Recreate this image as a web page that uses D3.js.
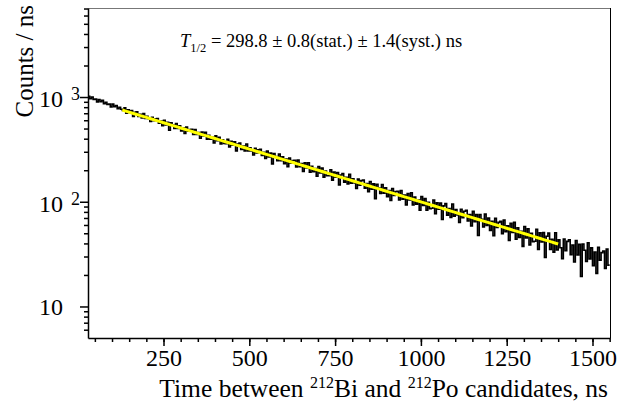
<!DOCTYPE html>
<html lang="en">
<head>
<meta charset="utf-8">
<script src="https://d3js.org/d3.v7.min.js"></script>
<style>
  body { margin: 0; background: #fff; }
  text { font-family: "Liberation Serif", "Times New Roman", serif; fill: #000; }
</style>
</head>
<body>
<script>
// histogram: 5 ns bins from 30 ns to 1550 ns, counts / ns
const binStart = 30;
const binWidth = 5;
const counts = [
  1017, 962, 1000, 946, 956, 899, 945, 902, 929, 862, 888, 848, 857, 805, 855, 808, 829, 772, 796, 763,
  744, 788, 702, 757, 713, 744, 651, 714, 722, 653, 683, 632, 697, 626, 654, 621, 583, 640, 593, 619,
  622, 562, 590, 532, 600, 542, 575, 481, 567, 539, 501, 558, 500, 530, 473, 508, 448, 516, 471, 490,
  491, 439, 490, 439, 459, 404, 463, 424, 461, 395, 432, 395, 413, 364, 426, 382, 412, 356, 390, 360,
  359, 395, 334, 377, 347, 373, 306, 356, 364, 316, 340, 305, 356, 305, 328, 306, 280, 324, 292, 313,
  316, 277, 297, 259, 305, 268, 291, 229, 288, 270, 246, 285, 247, 268, 231, 255, 216, 262, 234, 247,
  249, 215, 250, 216, 231, 195, 235, 210, 236, 192, 218, 194, 207, 175, 217, 188, 210, 172, 196, 177,
  177, 202, 161, 192, 172, 190, 145, 180, 186, 154, 171, 148, 183, 150, 166, 151, 134, 165, 144, 159,
  161, 135, 149, 125, 156, 132, 148, 107, 147, 135, 120, 146, 121, 136, 112, 128, 103, 134, 115, 125,
  126, 104, 128, 106, 116, 93, 120, 104, 122, 93, 111, 95, 104, 83, 112, 92, 107, 83, 99, 86,
  86.8, 103.9, 76.8, 97.6, 84.8, 97.3, 67.6, 91.4, 95.9, 74.5, 86.3, 71.0, 95.0, 72.9, 84.2, 74.7, 63.6, 84.7, 70.4, 81.1,
  82.9, 65.6, 75.6, 58.7, 81.0, 64.4, 75.6, 47.6, 75.6, 68.1, 57.4, 76.3, 59.3, 69.7, 53.3, 65.0, 47.4, 69.6, 56.8, 63.5,
  64.9, 49.6, 66.7, 51.7, 58.9, 42.8, 62.1, 50.9, 63.6, 43.8, 56.4, 45.6, 52.2, 37.5, 58.0, 45.0, 55.3, 38.6, 50.1, 41.6,
  41.9, 54.6, 35.1, 50.4, 41.4, 50.7, 29.4, 46.8, 50.3, 35.0, 43.8, 33.0, 50.6, 34.7, 43.2, 36.4, 28.6, 44.1, 34.0, 41.8,
  43.4, 31.2, 38.6, 26.6, 42.7, 31.0, 39.2, 19.3, 39.5, 34.4, 26.9, 40.6, 28.5, 36.3, 24.5, 33.1, 20.7, 36.7, 27.7, 32.7,
  33.9, 23.1, 35.3, 24.8
];

// exponential fit
const fitRange = [130, 1400];
const fitNorm = 751;      // counts / ns at fitRange[0]
const halfLife = 298.8;   // ns

const xMajorTicks = [250, 500, 750, 1000, 1250, 1500];
const xMinorTicks = d3.range(50, 1551, 50);
const yMajorTicks = [10, 100, 1000];
const yTickExp = ["", "2", "3"];
const yMinorTicks = [6, 7, 8, 9, 20, 30, 40, 50, 60, 70, 80, 90,
  200, 300, 400, 500, 600, 700, 800, 900, 2000, 3000, 4000, 5000, 6000, 7000];

const width = 641, height = 403;
const plot = {left: 88, right: 610, top: 8, bottom: 338};

const svg = d3.select("body").append("svg")
  .attr("width", width).attr("height", height);

const x = d3.scaleLinear().domain([30, 1551]).range([plot.left, plot.right]);
const y = d3.scaleLog().domain([5, 7080]).range([plot.bottom, plot.top]);

svg.append("clipPath").attr("id", "clip")
  .append("rect")
  .attr("x", plot.left).attr("y", plot.top)
  .attr("width", plot.right - plot.left).attr("height", plot.bottom - plot.top);

// histogram as a step line
const pts = counts.map((c, i) => [binStart + i * binWidth, c]);
pts.push([binStart + counts.length * binWidth, counts[counts.length - 1]]);

svg.append("path")
  .attr("clip-path", "url(#clip)")
  .attr("d", d3.line().curve(d3.curveStepAfter).x(d => x(d[0])).y(d => y(d[1]))(pts))
  .attr("fill", "none")
  .attr("stroke", "#000")
  .attr("stroke-width", 1.6);

// fit curve
const fitPts = d3.range(fitRange[0], fitRange[1] + 1, 10)
  .map(t => [t, fitNorm * Math.pow(2, -(t - fitRange[0]) / halfLife)]);
svg.append("path")
  .attr("d", d3.line().x(d => x(d[0])).y(d => y(d[1]))(fitPts))
  .attr("fill", "none")
  .attr("stroke", "#ffff00")
  .attr("stroke-width", 3);

// frame
svg.append("line")
  .attr("x1", plot.left).attr("x2", plot.right)
  .attr("y1", plot.top + 0.5).attr("y2", plot.top + 0.5)
  .attr("stroke", "#777").attr("stroke-width", 1);
svg.append("line")
  .attr("x1", plot.right + 0.5).attr("x2", plot.right + 0.5)
  .attr("y1", plot.top).attr("y2", plot.bottom)
  .attr("stroke", "#000").attr("stroke-width", 1);

// x axis
const gxMinor = svg.append("g")
  .attr("transform", `translate(0,${plot.bottom})`)
  .call(d3.axisBottom(x).tickValues(xMinorTicks).tickSize(4).tickFormat("").tickSizeOuter(0));
const gx = svg.append("g")
  .attr("transform", `translate(0,${plot.bottom})`)
  .call(d3.axisBottom(x).tickValues(xMajorTicks).tickSize(8).tickPadding(3)
    .tickFormat(d3.format("d")).tickSizeOuter(0));
[gxMinor, gx].forEach(g => {
  g.selectAll("path, line").attr("stroke", "#000").attr("stroke-width", 1.5);
});
gx.select(".domain").remove();
gx.selectAll("text").attr("font-size", 24).attr("font-family", "Liberation Serif");

// y axis
const gyMinor = svg.append("g")
  .attr("transform", `translate(${plot.left},0)`)
  .call(d3.axisLeft(y).tickValues(yMinorTicks).tickSize(4).tickFormat("").tickSizeOuter(0));
const gy = svg.append("g")
  .attr("transform", `translate(${plot.left},0)`)
  .call(d3.axisLeft(y).tickValues(yMajorTicks).tickSize(8).tickFormat("").tickSizeOuter(0));
[gyMinor, gy].forEach(g => {
  g.selectAll("path, line").attr("stroke", "#000").attr("stroke-width", 1.5);
});
gy.select(".domain").remove();

yMajorTicks.forEach((v, i) => {
  svg.append("text")
    .attr("x", 63).attr("y", y(v) + (yTickExp[i] ? 10 : 9))
    .attr("text-anchor", "end")
    .attr("font-size", 24)
    .text("10");
  if (yTickExp[i]) {
    svg.append("text")
      .attr("x", 71).attr("y", y(v) + 3)
      .attr("font-size", 18)
      .text(yTickExp[i]);
  }
});

// axis titles
svg.append("text")
  .attr("transform", `translate(33,5) rotate(-90)`)
  .attr("text-anchor", "end")
  .attr("font-size", 25)
  .text("Counts / ns");

const xt = svg.append("text")
  .attr("x", 608).attr("y", 397)
  .attr("text-anchor", "end")
  .attr("font-size", 25.5);
xt.append("tspan").text("Time between ");
xt.append("tspan").attr("font-size", 16).attr("dy", -9).text("212");
xt.append("tspan").attr("dy", 9).text("Bi and ");
xt.append("tspan").attr("font-size", 16).attr("dy", -9).text("212");
xt.append("tspan").attr("dy", 9).text("Po candidates, ns");

// result label
const lab = svg.append("text")
  .attr("x", 180).attr("y", 47)
  .attr("font-size", 18.5);
lab.append("tspan").attr("font-style", "italic").text("T");
lab.append("tspan").attr("font-size", 12.5).attr("dy", 5).text("1/2");
lab.append("tspan").attr("dy", -5).text(` = ${halfLife} \u00b1 0.8(stat.) \u00b1 1.4(syst.) ns`);
</script>
</body>
</html>
